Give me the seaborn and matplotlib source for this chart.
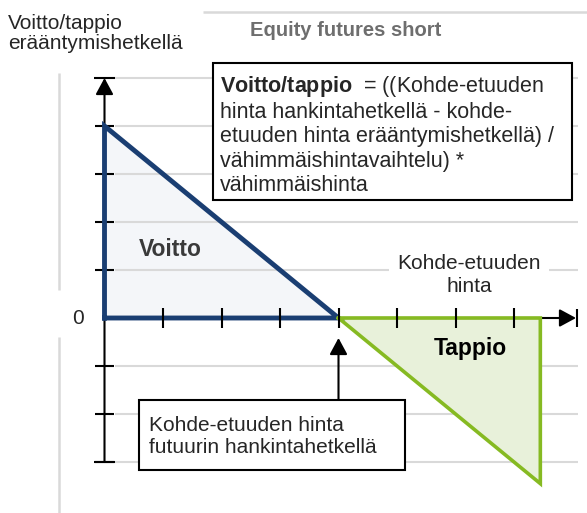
import matplotlib
matplotlib.use("Agg")
import matplotlib.pyplot as plt
from matplotlib.patches import Rectangle
import seaborn as sns

# payoff of a short equity future at expiry (price in tick steps)
hinta = [0, 4, 7.45]
voitto_tappio = [4, 0, -3.45]
x_ticks = [1, 2, 3, 4, 5, 6, 7]
y_ticks = [-3, -2, -1, 1, 2, 3, 4]
grid_y = [5, 4, 3, 2, 1, -1, -2, -3]
hankinta = hinta[1]

title = "Equity futures short"
y_label = "Voitto/tappio\nerääntymishetkellä"
x_label = "Kohde-etuuden\nhinta"
kaava = ("$\\bf{Voitto/tappio}$  = ((Kohde-etuuden\n"
         "hinta hankintahetkellä - kohde-\n"
         "etuuden hinta erääntymishetkellä) /\n"
         "vähimmäishintavaihtelu) *\n"
         "vähimmäishinta")
hankinta_txt = "Kohde-etuuden hinta\nfutuurin hankintahetkellä"

sns.set_theme(style="white")
plt.rcParams['font.family'] = ['Liberation Sans', 'DejaVu Sans']
plt.rcParams['mathtext.fontset'] = 'custom'
plt.rcParams['mathtext.rm'] = 'Liberation Sans'
plt.rcParams['mathtext.bf'] = 'Liberation Sans:bold'

blue = '#1a3e72'
green = '#86ba22'
grey = '#d9d9d9'

fig = plt.figure(figsize=(5.87, 5.13), dpi=100)
ax = fig.add_axes([0, 0, 1, 1])
X0, SX, Y0, SY = 104.5, 58.5, 318, 48
ax.set_xlim(-X0 / SX, (587 - X0) / SX)
ax.set_ylim(-(513 - Y0) / SY, Y0 / SY)
ax.axis('off')

def px(x):
    return (x - X0) / SX

def py(y):
    return (Y0 - y) / SY

# frame-ish grey lines and grid
ax.hlines(grid_y, px(115), px(578), color=grey, lw=1.5, zorder=2)
ax.hlines(py(12), px(203), px(587), color=grey, lw=1.8, zorder=2)
ax.vlines([px(59), px(59)], [py(290), py(513)], [py(73), py(337)], color=grey, lw=1.8, zorder=2)

# profit / loss areas
blue_x = [hinta[0], hinta[0], hinta[1], hinta[0]]
blue_y = [0, voitto_tappio[0], voitto_tappio[1], 0]
green_x = [hinta[1], hinta[2], hinta[2], hinta[1]]
green_y = [voitto_tappio[1], voitto_tappio[2], 0, 0]
ax.fill(blue_x, blue_y, facecolor='#f4f6f9', zorder=1)
ax.fill(green_x, green_y, facecolor='#e8f1da', zorder=3)

# axes with arrows
arrow = dict(arrowstyle='-|>,head_length=0.5,head_width=0.27', mutation_scale=20,
             lw=1.5, color='black', shrinkA=0, shrinkB=0)
ax.annotate('', xy=(0, grid_y[0]), xytext=(0, grid_y[-1]), arrowprops=arrow, zorder=4)
ax.annotate('', xy=(px(576), 0), xytext=(0, 0), arrowprops=arrow, zorder=4)
ax.hlines([grid_y[0], grid_y[-1]], -0.18, 0.18, color='black', lw=1.5, zorder=4)
ax.vlines(px(577), -0.19, 0.19, color='black', lw=1.5, zorder=4)
ax.hlines(y_ticks, -0.17, 0.17, color='black', lw=1.5, zorder=4)

sns.lineplot(x=blue_x, y=blue_y, sort=False, estimator=None, color=blue, lw=3.5,
             solid_joinstyle='miter', solid_capstyle='projecting', ax=ax, zorder=5)
sns.lineplot(x=green_x, y=green_y, sort=False, estimator=None, color=green, lw=2.6,
             solid_joinstyle='miter', solid_capstyle='projecting', ax=ax, zorder=5)
ax.vlines(x_ticks, -0.21, 0.21, color='black', lw=1.5, zorder=6)

# texts
ax.text(px(346), py(30), title, ha='center', va='center', fontsize=14.5,
        fontweight='bold', color='#6e6e6e')
ax.text(px(8), py(14), y_label, ha='left', va='top', fontsize=15, linespacing=1.05)
ax.text(px(77.5), 0, "0", ha='center', va='center', fontsize=15)
ax.text(px(469), py(275), x_label, ha='center', va='center', fontsize=15,
        multialignment='center', linespacing=1.3, zorder=7,
        bbox=dict(boxstyle='square,pad=0.4', fc='white', ec='none'))
ax.text(px(170), py(249), "Voitto", ha='center', va='center', fontsize=16.5,
        fontweight='bold', color='#3a3a3a', zorder=7)
ax.text(px(470), py(348), "Tappio", ha='center', va='center', fontsize=16.5,
        fontweight='bold', color='black', zorder=7)

ax.add_patch(Rectangle((px(213), py(200)), px(572) - px(213), py(63) - py(200),
                       fc='white', ec='black', lw=1.5, zorder=7))
ax.text(px(220), py(74), kaava, ha='left', va='top', fontsize=15.5, zorder=8)

ax.annotate('', xy=(hankinta, py(338)), xytext=(hankinta, py(400)), arrowprops=arrow, zorder=4)
ax.add_patch(Rectangle((px(139), py(470)), px(405) - px(139), py(400) - py(470),
                       fc='white', ec='black', lw=1.5, zorder=7))
ax.text(px(149), py(416), hankinta_txt, ha='left', va='top', fontsize=15, zorder=8)

fig.savefig('out.png', dpi=100)
